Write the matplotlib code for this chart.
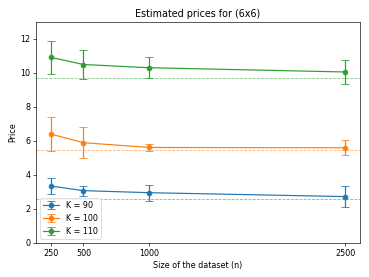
import matplotlib
matplotlib.use("Agg")
import matplotlib.pyplot as plt
import numpy as np

n_sizes = [250, 500, 1000, 2500]
labels = ["K = 90", "K = 100", "K = 110"]
means = [
    [3.35, 3.08, 2.96, 2.73],
    [6.41, 5.90, 5.62, 5.60],
    [10.92, 10.50, 10.31, 10.06],
]
upper = [
    [3.84, 3.37, 3.43, 3.33],
    [7.43, 6.80, 5.82, 6.06],
    [11.86, 11.37, 10.92, 10.78],
]
lower = [
    [2.88, 2.76, 2.49, 2.10],
    [5.43, 5.00, 5.39, 5.16],
    [9.97, 9.63, 9.70, 9.33],
]
true_prices = [2.59, 5.45, 9.69]
colors = ["#1f77b4", "#ff7f0e", "#2ca02c"]

dpi = 57.6
fig = plt.figure(figsize=(369 / dpi, 277 / dpi), dpi=dpi)
ax = fig.add_axes([36 / 369, 1 - 243 / 277, 324 / 369, 221 / 277])

for m, u, l, tp, c, lab in zip(means, upper, lower, true_prices, colors, labels):
    m = np.array(m); u = np.array(u); l = np.array(l)
    ax.errorbar(n_sizes, m, yerr=[m - l, u - m], fmt='-o', color=c,
                capsize=5, label=lab)
    ax.axhline(tp, color=c, linestyle='--', linewidth=1, alpha=0.6)

ax.set_ylim(0, 13)
ax.set_xticks(n_sizes)
ax.set_xticklabels([str(v) for v in n_sizes])
ax.set_title("Estimated prices for (6x6)")
ax.set_xlabel("Size of the dataset (n)")
ax.set_ylabel("Price")
ax.legend(loc="lower left")

fig.savefig("out.png", dpi=dpi)
